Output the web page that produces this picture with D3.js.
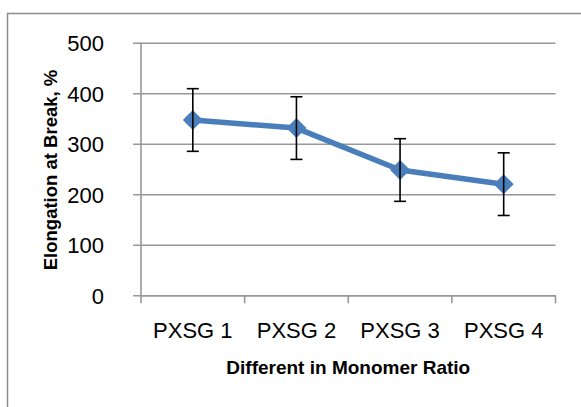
<!DOCTYPE html>
<html><head><meta charset="utf-8">
<script src="https://cdn.jsdelivr.net/npm/d3@7"></script>
<style>
html,body{margin:0;padding:0;background:#fff;}
svg{display:block;}
</style></head>
<body>
<script>
const categories = ["PXSG 1", "PXSG 2", "PXSG 3", "PXSG 4"];
const values = [347, 331, 248, 220];
const errors = [62, 62, 62, 62];
const yTicks = [0, 100, 200, 300, 400, 500];
const xTitle = "Different in Monomer Ratio";
const yTitle = "Elongation at Break, %";

(function () {
const W = 581, H = 407;
const svg = d3.select("body").append("svg").attr("width", W).attr("height", H);
svg.append("rect").attr("x", 7.5).attr("y", 13.5).attr("width", 600).attr("height", 420)
  .attr("fill", "#fff").attr("stroke", "#8c8c8c").attr("stroke-width", 1.5);

const pL = 141, pR = 555.5, pT = 42.7, pB = 295.3;
const x = d3.scaleBand().domain(categories).range([pL, pR]);
const y = d3.scaleLinear().domain([0, 500]).range([pB, pT]);
const font = "'Liberation Sans', Arial, sans-serif";

// gridlines + y ticks
const yAxis = d3.axisLeft(y).tickValues(yTicks).tickSize(-(pR - pL)).tickPadding(37).tickFormat(d3.format("d"));
const gy = svg.append("g").attr("transform", `translate(${pL},0)`).call(yAxis);
gy.select(".domain").remove();
gy.selectAll(".tick line").attr("stroke", "#989898").attr("stroke-width", 1.6).attr("x1", -8);
gy.selectAll(".tick text").attr("font-family", font).attr("font-size", 22).attr("fill", "#000").attr("dy", "0.36em");

// y axis line
svg.append("line").attr("x1", pL).attr("x2", pL).attr("y1", pT).attr("y2", pB)
  .attr("stroke", "#989898").attr("stroke-width", 1.6);

// x axis
const xAxis = d3.axisBottom(x).tickSize(0).tickPadding(27);
const gx = svg.append("g").attr("transform", `translate(0,${pB})`).call(xAxis);
gx.select(".domain").attr("stroke", "#989898").attr("stroke-width", 1.6);
gx.selectAll(".tick text").attr("font-family", font).attr("font-size", 22).attr("fill", "#000");
// boundary ticks between categories
const bounds = categories.map(c => x(c)).concat([x(categories[categories.length - 1]) + x.bandwidth()]);
svg.append("g").selectAll("line").data(bounds).join("line")
  .attr("x1", d => d).attr("x2", d => d).attr("y1", pB).attr("y2", pB + 8)
  .attr("stroke", "#989898").attr("stroke-width", 1.6);

const cx = c => x(c) + x.bandwidth() / 2;

// line
svg.append("path").datum(categories)
  .attr("d", d3.line().x(c => cx(c)).y((c, i) => y(values[i])))
  .attr("fill", "none").attr("stroke", "#4a7ebb").attr("stroke-width", 5.5).attr("stroke-linejoin", "round");

// markers
svg.append("g").selectAll("path").data(categories).join("path")
  .attr("transform", (c, i) => `translate(${cx(c)},${y(values[i])})`)
  .attr("d", "M0,-10L10,0L0,10L-10,0Z").attr("fill", "#4a7ebb");

// error bars
const eb = svg.append("g").attr("stroke", "#000").attr("stroke-width", 1.6);
categories.forEach((c, i) => {
  const xc = cx(c), y1 = y(values[i] + errors[i]), y2 = y(values[i] - errors[i]);
  eb.append("line").attr("x1", xc).attr("x2", xc).attr("y1", y1).attr("y2", y2);
  eb.append("line").attr("x1", xc - 6).attr("x2", xc + 6).attr("y1", y1).attr("y2", y1);
  eb.append("line").attr("x1", xc - 6).attr("x2", xc + 6).attr("y1", y2).attr("y2", y2);
});

// titles
svg.append("text").attr("x", (pL + pR) / 2).attr("y", 374).attr("text-anchor", "middle")
  .attr("font-family", font).attr("font-weight", "bold").attr("font-size", 19).text(xTitle);
svg.append("text").attr("transform", "translate(57,170) rotate(-90)").attr("text-anchor", "middle")
  .attr("font-family", font).attr("font-weight", "bold").attr("font-size", 18.5).text(yTitle);
})();
</script>
</body></html>
